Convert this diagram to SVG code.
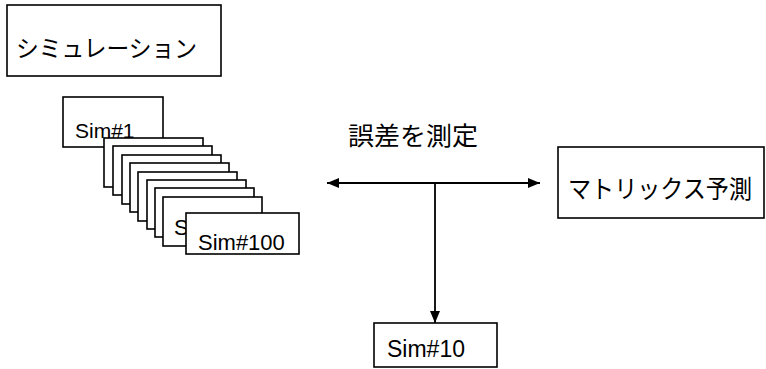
<svg xmlns="http://www.w3.org/2000/svg" width="766" height="369" viewBox="0 0 766 369">
<style>
.box{fill:#fff;stroke:#000;stroke-width:1.6}
.lbl{font-family:"Liberation Sans",Arial,sans-serif;fill:#000}
.jp{font-family:"Noto Sans CJK JP","Noto Sans CJK SC",sans-serif;fill:#000}
.conn{stroke:#000;stroke-width:1.8;fill:none}
</style>
<defs>
<marker id="ah" markerUnits="userSpaceOnUse" markerWidth="12" markerHeight="10" refX="12" refY="5" orient="auto-start-reverse">
<path d="M0,0 L12,5 L0,10 Z" fill="#000"/>
</marker>
</defs>
<rect width="766" height="369" fill="#fff"/>
<g id="simulation">
<rect class="box" x="7" y="5" width="214" height="71"/>
<text class="jp" x="16" y="57" font-size="24" textLength="181" lengthAdjust="spacingAndGlyphs">シミュレーション</text>
</g>
<g id="sim1">
<rect class="box" x="63" y="97" width="100" height="50"/>
<text class="lbl" x="75" y="138" font-size="21">Sim#1</text>
</g>
<g id="stack">
<rect class="box" x="104" y="138" width="99" height="49"/>
<rect class="box" x="113" y="146" width="99" height="49"/>
<rect class="box" x="122" y="155" width="99" height="49"/>
<rect class="box" x="130" y="163" width="99" height="49"/>
<rect class="box" x="138" y="172" width="99" height="49"/>
<rect class="box" x="147" y="180" width="99" height="49"/>
<rect class="box" x="155" y="188" width="99" height="49"/>
<rect class="box" x="163" y="197" width="99" height="49"/>
<text class="lbl" x="174" y="235" font-size="22">S</text>
</g>
<g id="sim100">
<rect class="box" x="186" y="213" width="113" height="41"/>
<text class="lbl" x="198" y="250" font-size="22">Sim#100</text>
</g>
<g id="measure">
<text class="jp" x="348" y="145" font-size="25" textLength="130" lengthAdjust="spacingAndGlyphs">誤差を測定</text>
</g>
<g id="matrix">
<rect class="box" x="558" y="147" width="206" height="71"/>
<text class="jp" x="568" y="198" font-size="25" textLength="184" lengthAdjust="spacingAndGlyphs">マトリックス予測</text>
</g>
<g id="sim10">
<rect class="box" x="374" y="323" width="123" height="44"/>
<text class="lbl" x="387" y="357" font-size="23">Sim#10</text>
</g>
<g id="connectors">
<line class="conn" x1="327" y1="183" x2="540" y2="183" marker-start="url(#ah)" marker-end="url(#ah)"/>
<line class="conn" x1="435" y1="183" x2="435" y2="323" marker-end="url(#ah)"/>
</g>
</svg>
